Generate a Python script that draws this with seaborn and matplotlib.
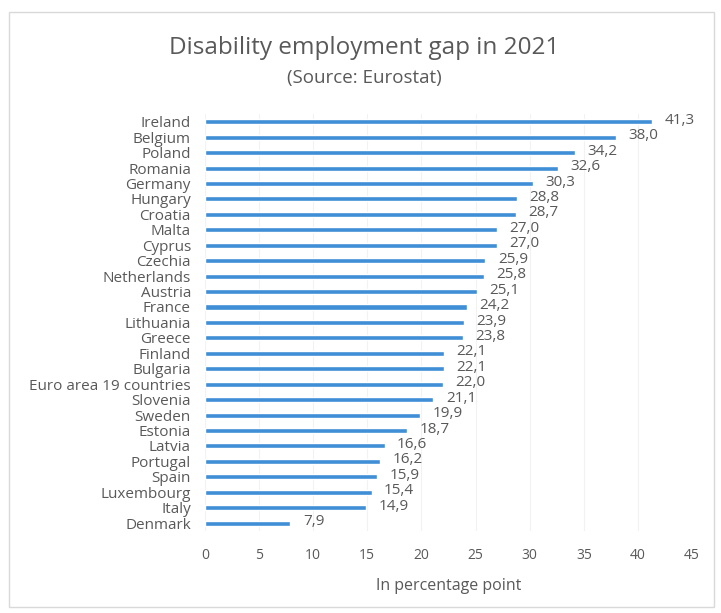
import matplotlib
matplotlib.use("Agg")
import matplotlib.pyplot as plt
import seaborn as sns
import pandas as pd

countries = ["Ireland", "Belgium", "Poland", "Romania", "Germany", "Hungary", "Croatia",
             "Malta", "Cyprus", "Czechia", "Netherlands", "Austria", "France", "Lithuania",
             "Greece", "Finland", "Bulgaria", "Euro area 19 countries", "Slovenia", "Sweden",
             "Estonia", "Latvia", "Portugal", "Spain", "Luxembourg", "Italy", "Denmark"]
values = [41.3, 38.0, 34.2, 32.6, 30.3, 28.8, 28.7, 27.0, 27.0, 25.9, 25.8, 25.1, 24.2, 23.9,
          23.8, 22.1, 22.1, 22.0, 21.1, 19.9, 18.7, 16.6, 16.2, 15.9, 15.4, 14.9, 7.9]
xticks = [0, 5, 10, 15, 20, 25, 30, 35, 40, 45]

sns.set_theme(style="white")
plt.rcParams['font.family'] = ['Open Sans', 'DejaVu Sans']
gray = "#595959"

df = pd.DataFrame({"country": countries, "value": values})

fig = plt.figure(figsize=(7.21, 6.13), dpi=100)
ax = fig.add_axes([0.284, 0.134, 0.676, 0.68])

sns.barplot(data=df, y="country", x="value", orient="h", color="#3f8ed6",
            saturation=1, width=0.33, ax=ax)

for i, v in enumerate(values):
    ax.annotate(f"{v:.1f}".replace(".", ","), xy=(v, i), xytext=(9, 1),
                textcoords="offset points", va="center", ha="left",
                fontsize=11, color=gray)

ax.set_xlim(0, 45)
ax.set_ylim(26.5, -0.5)
ax.set_xticks(xticks)
ax.set_xticklabels([str(t) for t in xticks])
ax.tick_params(axis="x", labelsize=10, colors=gray, pad=12, length=0)
ax.tick_params(axis="y", labelsize=11, colors=gray, pad=10, length=0)
ax.set_ylabel("")
ax.set_xlabel("In percentage point", fontsize=11.5, color=gray, labelpad=11)
for s in ax.spines.values():
    s.set_visible(False)
ax.grid(axis="x", color="#f2f2f2", linewidth=0.8)
ax.set_axisbelow(True)

fig.text(0.505, 0.922, "Disability employment gap in 2021", ha="center", va="center",
         fontsize=17.5, color=gray)
fig.text(0.505, 0.873, "(Source: Eurostat)", ha="center", va="center",
         fontsize=13.5, color=gray)

border = plt.Rectangle((0.012, 0.01), 0.978, 0.97, transform=fig.transFigure,
                       fill=False, edgecolor="#d9d9d9", linewidth=1)
fig.patches.append(border)

fig.savefig("out.png", dpi=100)
